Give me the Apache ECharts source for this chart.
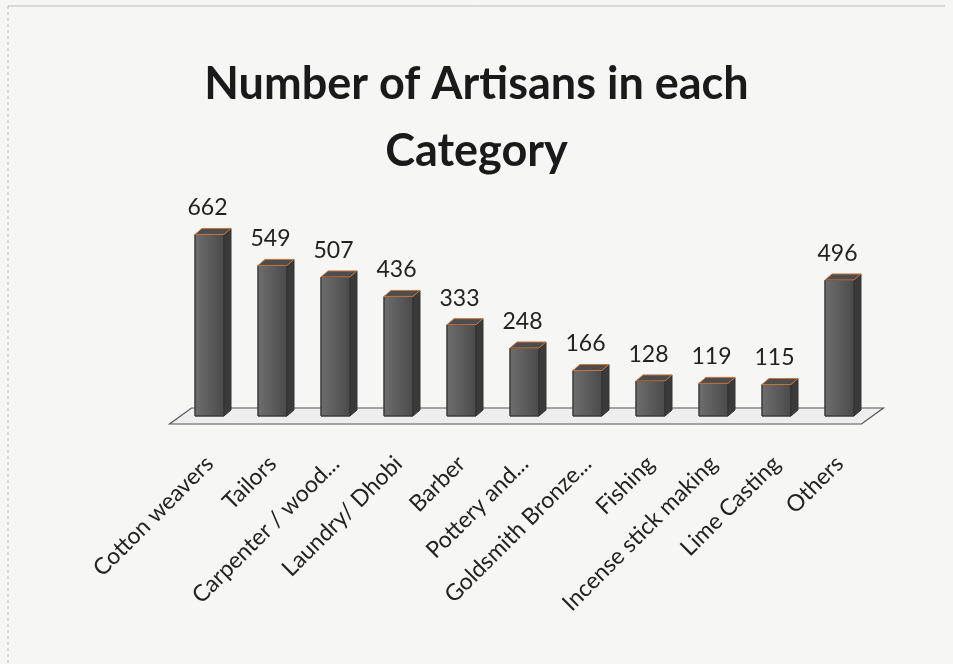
<!DOCTYPE html>
<html><head><meta charset="utf-8">
<script src="https://cdn.jsdelivr.net/npm/echarts@6/dist/echarts.min.js"></script>
<style>html,body{margin:0;padding:0;background:#f6f6f4;}#c{width:953px;height:664px;}</style>
</head><body><div id="c"></div>
<script>
const categories = ["Cotton weavers","Tailors","Carpenter / wood...","Laundry/ Dhobi","Barber","Pottery and...","Goldsmith Bronze...","Fishing","Incense stick making","Lime Casting","Others"];
const values = [662,549,507,436,333,248,166,128,119,115,496];
const titleLines = ["Number of Artisans in each","Category"];

const chart = echarts.init(document.getElementById('c'));
const DX = 7, DY = -6;
function renderBar(params, api){
  const v = api.value(1), i = api.value(0);
  const top = api.coord([i, v]);
  const base = api.coord([i, 0]);
  const bw = api.size([1,0])[0]*0.46;
  const x0 = top[0]-bw/2, x1 = top[0]+bw/2, y0 = top[1], y1 = base[1];
  return {type:'group', children:[
    {type:'rect', shape:{x:x0,y:y0,width:bw,height:y1-y0}, style:{fill:new echarts.graphic.LinearGradient(0,0,1,0,[{offset:0,color:'#6e6e6e'},{offset:0.5,color:'#5c5c5c'},{offset:1,color:'#4a4a4a'}]), stroke:'#3a3a3a', lineWidth:1}},
    {type:'polygon', shape:{points:[[x1,y0],[x1+DX,y0+DY],[x1+DX,y1+DY],[x1,y1]]}, style:{fill:'#3a3a3a', stroke:'#333', lineWidth:1}},
    {type:'polygon', shape:{points:[[x0,y0],[x0+DX,y0+DY],[x1+DX,y0+DY],[x1,y0]]}, style:{fill:'#4d4d4d', stroke:'#c9763d', lineWidth:1}},
    {type:'text', x:top[0]-2, y:y0-15, style:{text:String(v), textAlign:'center', textVerticalAlign:'bottom', font:'23px Lato', fill:'#222'}}
  ]};
}
chart.setOption({
  backgroundColor:'#f6f6f4',
  animation:false,
  title:{text:titleLines.join('\n'), left:'center', top:46, textStyle:{fontFamily:'Lato', fontWeight:'bold', fontSize:45, color:'#1a1a1a', lineHeight:67}},
  grid:{left:178, right:82, top:224, bottom:248},
  xAxis:{type:'category', data:categories, axisLine:{show:false}, axisTick:{show:false},
    axisLabel:{rotate:45, interval:0, fontFamily:'Lato', fontSize:23, color:'#222', margin:44}},
  yAxis:{type:'value', min:0, max:700, show:false, splitLine:{show:false}},
  series:[
    {type:'custom', renderItem:renderBar, data:values.map((v,i)=>[i,v]), z:3, encode:{x:0,y:1}}
  ]
});
const l = chart.convertToPixel({xAxisIndex:0},0) - 40;
const r = chart.convertToPixel({xAxisIndex:0},10) + 22;
const yb = chart.convertToPixel({yAxisIndex:0},0);
chart.setOption({graphic:[
  {type:'polygon', z:1, shape:{points:[[l,yb+8],[l+22,yb-8],[r+22,yb-8],[r,yb+8]]}, style:{fill:'#eeeeee', stroke:'#555', lineWidth:1.2}},
  {type:'line', z:0, shape:{x1:8,y1:6,x2:945,y2:6}, style:{stroke:'#bbb', lineWidth:1}},
  {type:'line', z:0, shape:{x1:8,y1:6,x2:8,y2:664}, style:{stroke:'#bbb', lineWidth:1, lineDash:[3,3]}}
]});
</script></body></html>
